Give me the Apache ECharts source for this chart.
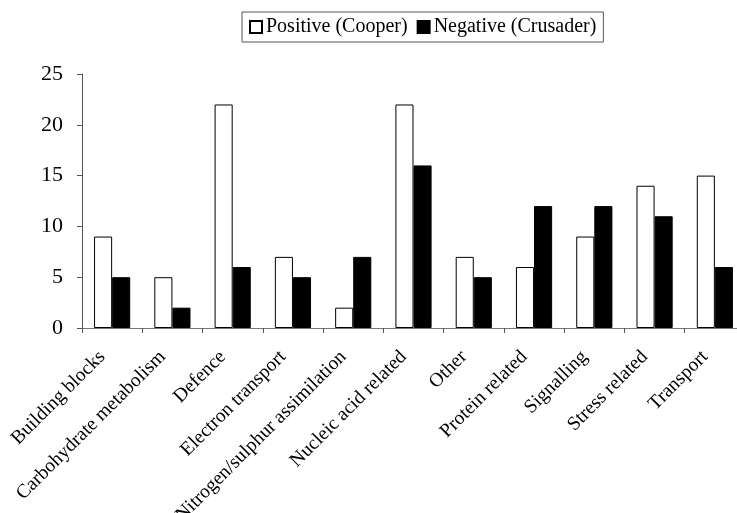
<!DOCTYPE html>
<html>
<head>
<meta charset="utf-8">
<script src="https://cdn.jsdelivr.net/npm/echarts@6/dist/echarts.min.js"></script>
<style>
html,body{margin:0;padding:0;background:#fff;}
#chart{width:737px;height:513px;}
</style>
</head>
<body>
<div id="chart"></div>
<script>
var categories = ["Building blocks","Carbohydrate metabolism","Defence","Electron transport","Nitrogen/sulphur assimilation","Nucleic acid related","Other","Protein related","Signalling","Stress related","Transport"];
var positiveCooper = [9,5,22,7,2,22,7,6,9,14,15];
var negativeCrusader = [5,2,6,5,7,16,5,12,12,11,6];
var yTicks = [0,5,10,15,20,25];

var font = "Liberation Serif";
var chart = echarts.init(document.getElementById('chart'));
chart.setOption({
  animation:false,
  backgroundColor:'#fff',
  textStyle:{fontFamily:font,color:'#000'},
  legend:{
    top:12,
    left:242,
    icon:'rect',
    itemWidth:12,
    itemHeight:12,
    itemGap:9,
    padding:[5,7,5,7],
    borderColor:'#555',
    borderWidth:1,
    textStyle:{fontFamily:font,fontSize:20,color:'#000',padding:[0,0,0,-1]},
    data:['Positive (Cooper)','Negative (Crusader)']
  },
  grid:{left:82,top:74,width:663,bottom:185,containLabel:false,outerBoundsMode:'none'},
  xAxis:{
    type:'category',
    data:categories,
    axisLine:{lineStyle:{color:'#777',width:1}},
    axisTick:{show:true,length:5,lineStyle:{color:'#555'}},
    axisLabel:{rotate:45,interval:0,fontFamily:font,fontSize:19.5,color:'#000',margin:16,padding:[0,14,0,0]}
  },
  yAxis:{
    type:'value',
    min:yTicks[0],
    max:yTicks[yTicks.length-1],
    interval:5,
    splitLine:{show:false},
    axisLine:{show:true,lineStyle:{color:'#555',width:1}},
    axisTick:{show:true,length:5,lineStyle:{color:'#555'}},
    axisLabel:{fontFamily:font,fontSize:22,color:'#000',margin:19}
  },
  series:[
    {name:'Positive (Cooper)',type:'bar',data:positiveCooper,barGap:'0%',barCategoryGap:'40%',
     itemStyle:{color:'#fff',borderColor:'#000',borderWidth:1}},
    {name:'Negative (Crusader)',type:'bar',data:negativeCrusader,
     itemStyle:{color:'#000',borderColor:'#000',borderWidth:1}}
  ]
});
</script>
</body>
</html>
